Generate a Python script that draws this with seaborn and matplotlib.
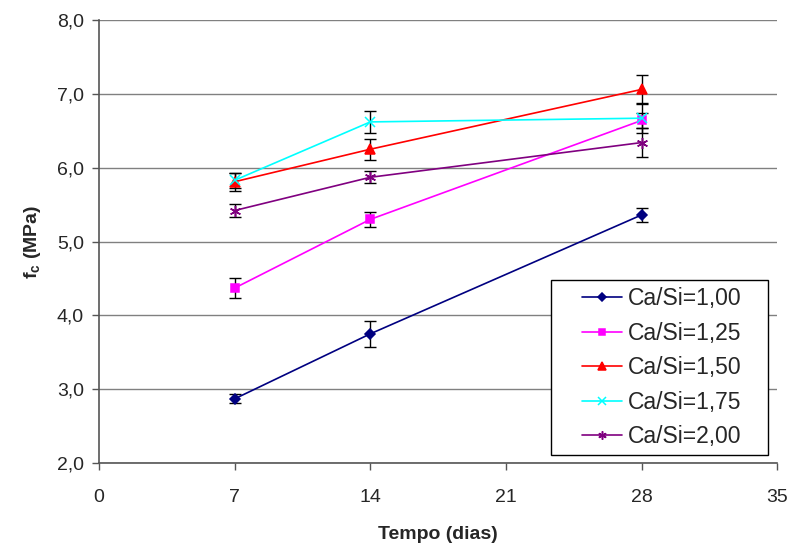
import numpy as np
import pandas as pd
import matplotlib
matplotlib.use("Agg")
import matplotlib.pyplot as plt
from matplotlib.patches import Rectangle
import seaborn as sns

days = [7, 14, 28]
series = ["Ca/Si=1,00", "Ca/Si=1,25", "Ca/Si=1,50", "Ca/Si=1,75", "Ca/Si=2,00"]
fc_100 = [2.87, 3.75, 5.36]
fc_125 = [4.37, 5.30, 6.64]
fc_150 = [5.81, 6.25, 7.06]
fc_175 = [5.83, 6.62, 6.67]
fc_200 = [5.42, 5.87, 6.34]
err_100 = [0.06, 0.18, 0.09]
err_125 = [0.14, 0.10, 0.10]
err_150 = [0.12, 0.14, 0.20]
err_175 = [0.10, 0.15, 0.20]
err_200 = [0.09, 0.08, 0.20]
colors = ["#000080", "#FF00FF", "#FF0000", "#00FFFF", "#800080"]
markers = ["D", "s", "^", "x", (6, 2, 0)]
msizes = [5, 6, 7, 7, 8]

values = [fc_100, fc_125, fc_150, fc_175, fc_200]
errors = [err_100, err_125, err_150, err_175, err_200]

rows = []
for s, v, e in zip(series, values, errors):
    for d, vi, ei in zip(days, v, e):
        rows.append({"dias": d, "fc": vi, "err": ei, "serie": s})
df = pd.DataFrame(rows)

sns.set_theme(style="white")
plt.rcParams["font.family"] = ["Liberation Sans", "DejaVu Sans"]

fig = plt.figure(figsize=(7.96, 5.48), dpi=100)
ax = fig.add_axes([0.1244, 0.155, 0.852, 0.8085])

for i, s in enumerate(series):
    sub = df[df["serie"] == s]
    ax.errorbar(sub["dias"], sub["fc"], yerr=sub["err"], fmt="none",
                ecolor="black", elinewidth=1.0, capsize=4.5, capthick=1.0, zorder=2)

for i, s in enumerate(series):
    sub = df[df["serie"] == s]
    sns.lineplot(data=sub, x="dias", y="fc", ax=ax, color=colors[i],
                 marker=markers[i], markersize=msizes[i], markeredgecolor=colors[i],
                 markeredgewidth=1.1, linewidth=1.2, label=s, zorder=3)

ax.set_xlim(0, 35)
ax.set_ylim(2.0, 8.0)
ax.set_xticks([0, 7, 14, 21, 28, 35])
ax.set_yticks(np.arange(2, 8.01, 1.0))
ax.set_yticklabels([f"{v:.1f}".replace(".", ",") for v in np.arange(2, 8.01, 1.0)])
ax.yaxis.grid(True, color="#808080", linewidth=1.0)
ax.xaxis.grid(False)
ax.set_axisbelow(True)
for sp in ["top", "right"]:
    ax.spines[sp].set_visible(False)
for sp in ["left", "bottom"]:
    ax.spines[sp].set_color("#555555")
    ax.spines[sp].set_linewidth(1.2)
ax.tick_params(axis="both", which="major", direction="out", length=5, width=1,
               color="#555555", labelsize=14, left=True, bottom=True)
ax.tick_params(axis="y", pad=6)
ax.tick_params(axis="x", pad=14)
ax.set_xlabel("Tempo (dias)", fontsize=14, fontweight="bold", labelpad=14)
ax.set_ylabel(r"f$_\mathregular{c}$ (MPa)", fontsize=14, fontweight="bold", labelpad=10)

# legend frame
ax.add_patch(Rectangle((0.6667, 0.018), 0.32, 0.395, transform=ax.transAxes,
                       facecolor="white", edgecolor="black", linewidth=1.0, zorder=5,
                       clip_on=False))
handles, labels = ax.get_legend_handles_labels()
leg = ax.legend(handles, labels, loc="upper left", bbox_to_anchor=(0.712, 0.397),
                fontsize=16.5, frameon=False, handlelength=1.75, labelspacing=0.5,
                borderpad=0, handletextpad=0.25, borderaxespad=0, markerscale=0.75)
leg.set_zorder(6)

fig.savefig("out.png", dpi=100)
